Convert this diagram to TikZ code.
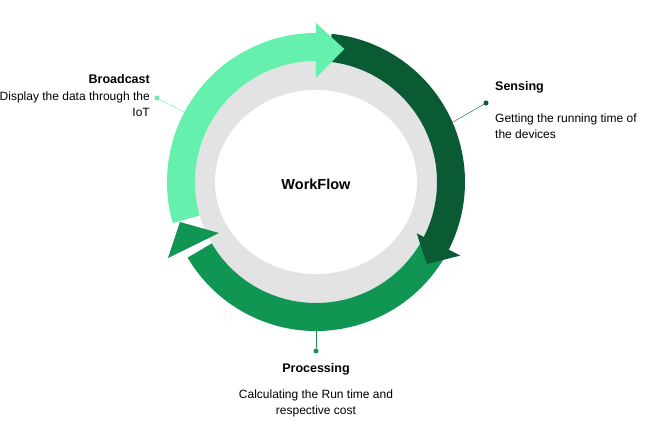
\documentclass[tikz,border=0pt]{standalone}
\usepackage{fontspec}
\setmainfont{Liberation Sans}
\usepackage{xcolor}
\usepackage{tikz}
\definecolor{lightg}{HTML}{66F0AE}
\definecolor{darkg}{HTML}{0A5A33}
\definecolor{midg}{HTML}{119553}
\definecolor{ringgray}{HTML}{E3E3E3}
\newcommand{\ringband}[3]{\fill[#1] (#2:149) arc[start angle=#2,end angle=#3,radius=149] -- (#3:121) arc[start angle=#3,end angle=#2,radius=121] -- cycle;}

\begin{document}
\begin{tikzpicture}[x=1pt,y=1pt,
	title/.style={font=\bfseries\fontsize{12.5}{15}\selectfont,inner sep=0pt},
	desc/.style={font=\fontsize{12}{16}\selectfont,inner sep=0pt},
	dot/.style={circle,inner sep=0pt,minimum size=5pt}]
	\useasboundingbox (-316,-248) rectangle (340,182);
	\fill[ringgray] (0,0) circle[radius=121];
	\fill[white] (0,0) ellipse[x radius=101,y radius=92];
	\coordinate (bcE) at (152:149);
	\coordinate (snE) at (23.6:149);
	\coordinate (prE) at (-90:149);
	\node[dot,fill=lightg] (bcD) at (-159,84) {};
	\node[dot,fill=darkg] (snD) at (170,79) {};
	\node[dot,fill=midg] (prD) at (0,-169) {};
	\draw[lightg] (bcD) -- (bcE);
	\draw[darkg] (snD) -- (snE);
	\draw[midg] (prD) -- (prE);
	\ringband{midg}{-27}{-149.5}
	\ringband{darkg}{84}{-27}
	\fill[darkg] (-27:113) -- (-36.5:138) -- (-27:162) -- cycle;
	\ringband{lightg}{196}{90}
	\fill[lightg] (90:104) -- (78:136) -- (90:159) -- cycle;
	\fill[midg] (-148,-76) -- (-136,-40) -- (-97,-51) -- cycle;
	\node[font=\bfseries\fontsize{14.5}{17}\selectfont] (wf) at (0,-2) {WorkFlow};
	\node[title,anchor=base east] (bcT) at (-166,98) {Broadcast};
	\node[desc,anchor=north east,align=right] (bcX) at (-166,90) {Display the data through the\\IoT};
	\node[title,anchor=base west] (snT) at (179,91) {Sensing};
	\node[desc,anchor=north west,align=left] (snX) at (179,68) {Getting the running time of\\the devices};
	\node[title,anchor=base] (prT) at (0,-191) {Processing};
	\node[desc,anchor=north,align=center] (prX) at (0,-208) {Calculating the Run time and\\respective cost};
\end{tikzpicture}
\end{document}
